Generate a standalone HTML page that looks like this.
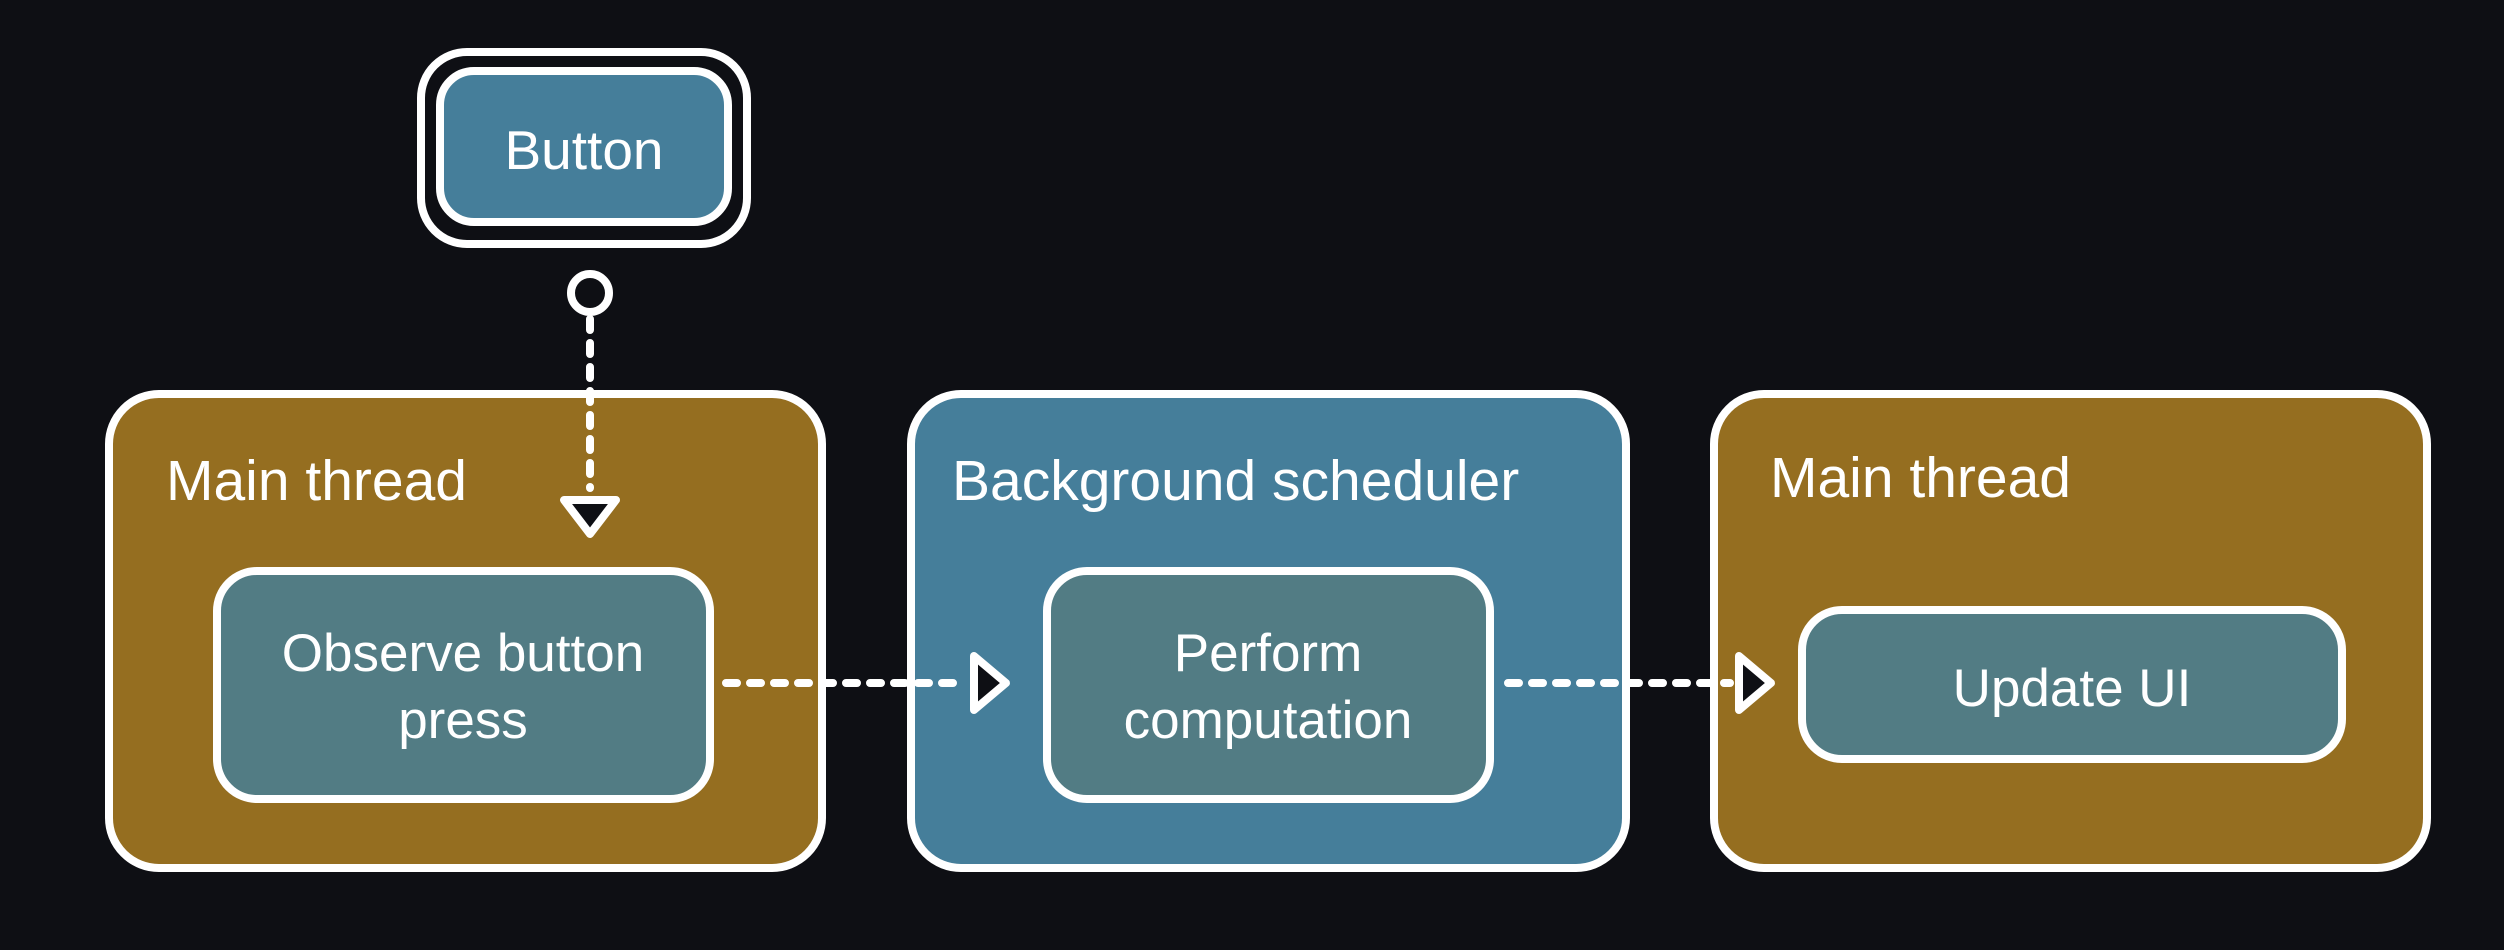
<!DOCTYPE html>
<html><head><meta charset="utf-8"><style>
html,body{margin:0;padding:0;background:#0e0f14;}
svg{display:block;}
text{font-family:"Liberation Sans",sans-serif;fill:#fff;}
</style></head><body>
<svg width="2504" height="950" viewBox="0 0 2504 950" xmlns="http://www.w3.org/2000/svg">
<rect width="2504" height="950" fill="#0e0f14"/>
<!-- Button -->
<rect x="421" y="52" width="326" height="192" rx="46" fill="none" stroke="#fff" stroke-width="8"/>
<rect x="440" y="71" width="288" height="151" rx="34" fill="#457e9a" stroke="#fff" stroke-width="8"/>
<text x="584" y="169" font-size="55" text-anchor="middle">Button</text>
<!-- containers -->
<rect x="109" y="394" width="713" height="474" rx="50" fill="#956e20" stroke="#fff" stroke-width="8"/>
<rect x="911" y="394" width="715" height="474" rx="50" fill="#457e9a" stroke="#fff" stroke-width="8"/>
<rect x="1714" y="394" width="713" height="474" rx="50" fill="#956e20" stroke="#fff" stroke-width="8"/>
<text x="166" y="500" font-size="57">Main thread</text>
<text x="952" y="500" font-size="57">Background scheduler</text>
<text x="1770" y="497" font-size="57">Main thread</text>
<!-- nodes -->
<rect x="217" y="571" width="493" height="228" rx="40" fill="#527c84" stroke="#fff" stroke-width="8"/>
<text x="463" y="671" font-size="53" text-anchor="middle">Observe button</text>
<text x="463" y="738" font-size="53" text-anchor="middle">press</text>
<rect x="1047" y="571" width="443" height="228" rx="40" fill="#527c84" stroke="#fff" stroke-width="8"/>
<text x="1268" y="671" font-size="53" text-anchor="middle">Perform</text>
<text x="1268" y="738" font-size="53" text-anchor="middle">computation</text>
<rect x="1802" y="610" width="540" height="149" rx="40" fill="#527c84" stroke="#fff" stroke-width="8"/>
<text x="2072" y="706" font-size="53" text-anchor="middle">Update UI</text>
<!-- connectors -->
<circle cx="590" cy="293" r="19" fill="none" stroke="#fff" stroke-width="8"/>
<line x1="590" y1="319" x2="590" y2="488" stroke="#fff" stroke-width="8" stroke-linecap="round" stroke-dasharray="11 13"/>
<polygon points="564,500 616,500 590,534" fill="#0e0f14" stroke="#fff" stroke-width="8" stroke-linejoin="round"/>
<line x1="726" y1="683" x2="966" y2="683" stroke="#fff" stroke-width="8" stroke-linecap="round" stroke-dasharray="11 13"/>
<polygon points="974,656 974,710 1006,683" fill="#0e0f14" stroke="#fff" stroke-width="8" stroke-linejoin="round"/>
<line x1="1508" y1="683" x2="1730" y2="683" stroke="#fff" stroke-width="8" stroke-linecap="round" stroke-dasharray="11 13"/>
<polygon points="1739,656 1739,710 1771,683" fill="#0e0f14" stroke="#fff" stroke-width="8" stroke-linejoin="round"/>
</svg>
</body></html>
